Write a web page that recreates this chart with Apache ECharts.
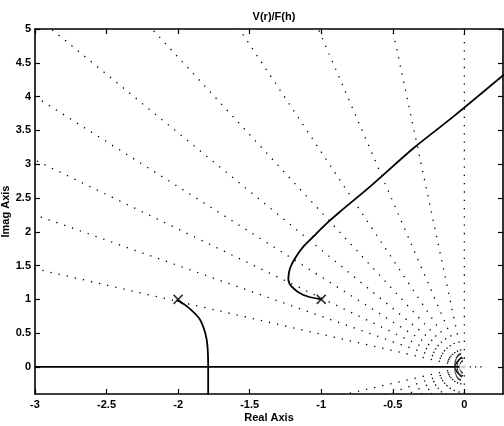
<!DOCTYPE html>
<html>
<head>
<meta charset="utf-8">
<script src="https://cdn.jsdelivr.net/npm/echarts@6/dist/echarts.min.js"></script>
<style>
  html, body { margin: 0; padding: 0; background: #fff; }
  #main { width: 504px; height: 426px; }
</style>
</head>
<body>
<div id="main"></div>
<script>
// root locus V(r)/F(h)

// open loop poles (x) and zero (o)
var poles = [[-2, 1], [-1, 1]];
var zeros = [[0, 0]];

// branch leaving the pole at -2+1j, drops vertically through the real axis
var branch1 = [[-2.01, 0.99], [-1.94, 0.90], [-1.85, 0.71], [-1.81, 0.50],
  [-1.795, 0.31], [-1.79, 0.0], [-1.79, -0.6]];

// branch leaving the pole at -1+1j, bends left then heads up to the right
var branch2 = [[-1.0, 1.0], [-1.125, 1.065], [-1.207, 1.188], [-1.23, 1.31],
  [-1.218, 1.46], [-1.183, 1.608], [-1.125, 1.78], [-1.055, 1.93],
  [-0.962, 2.125], [-0.869, 2.297], [-0.659, 2.667], [-0.356, 3.235],
  [-0.077, 3.703], [0.28, 4.33]];

// locus on the real axis
var realBranch = [[-3, 0], [0, 0]];

// sgrid damping ratios
var zetas = [0, 0.1, 0.2, 0.3, 0.4, 0.5, 0.6, 0.7, 0.8, 0.9];

// tick labels
var xTicks = [-3, -2.5, -2, -1.5, -1, -0.5, 0];
var yTicks = [0, 0.5, 1, 1.5, 2, 2.5, 3, 3.5, 4, 4.5, 5];

var chart = echarts.init(document.getElementById('main'), null, { renderer: 'canvas' });

var FONT = 'Liberation Sans';
var dotStyle = { color: '#000', width: 1.3, type: [1.3, 7] };

// damping ratio rays, upper and lower half planes
var raySeries = [];
zetas.forEach(function (z) {
  var w = Math.sqrt(1 - z * z);
  [1, -1].forEach(function (s) {
    raySeries.push({
      type: 'line',
      data: [[0, 0], [-z * 12, s * w * 12]],
      showSymbol: false,
      silent: true,
      lineStyle: dotStyle,
      z: 1
    });
  });
});

var frameAxisLine = { show: true, onZero: false, lineStyle: { color: '#000', width: 1.6 } };
var tickStyle = { show: true, inside: true, length: 5, lineStyle: { color: '#000', width: 1.2 } };
var labelFont = { fontFamily: FONT, fontSize: 11, fontWeight: 'bold', color: '#000' };

var option = {
  backgroundColor: '#fff',
  animation: false,
  title: {
    text: 'V(r)/F(h)',
    left: 269,
    textAlign: 'center',
    top: 6,
    textStyle: labelFont
  },
  grid: { left: 35, right: 1, top: 29, bottom: 32, containLabel: false, outerBoundsMode: 'none' },
  xAxis: [{
    type: 'value',
    min: -3,
    max: 0.27,
    position: 'bottom',
    name: 'Real Axis',
    nameLocation: 'middle',
    nameGap: 18,
    nameMoveOverlap: false,
    nameTextStyle: labelFont,
    axisLine: frameAxisLine,
    axisTick: Object.assign({ customValues: xTicks }, tickStyle),
    axisLabel: Object.assign({ customValues: xTicks, margin: 5 }, labelFont),
    splitLine: { show: false }
  }, {
    type: 'value',
    min: -3,
    max: 0.27,
    position: 'top',
    axisLine: frameAxisLine,
    axisTick: Object.assign({ customValues: xTicks }, tickStyle),
    axisLabel: { show: false },
    splitLine: { show: false }
  }],
  yAxis: [{
    type: 'value',
    min: -0.4,
    max: 5,
    position: 'left',
    name: 'Imag Axis',
    nameLocation: 'middle',
    nameGap: 24,
    nameMoveOverlap: false,
    nameTextStyle: labelFont,
    axisLine: frameAxisLine,
    axisTick: Object.assign({ customValues: yTicks }, tickStyle),
    axisLabel: Object.assign({ customValues: yTicks, margin: 4 }, labelFont),
    splitLine: { show: false }
  }, {
    type: 'value',
    min: -0.4,
    max: 5,
    position: 'right',
    axisLine: frameAxisLine,
    axisTick: Object.assign({ customValues: yTicks }, tickStyle),
    axisLabel: { show: false },
    splitLine: { show: false }
  }],
  series: raySeries.concat([
    {
      type: 'line',
      data: [[0, 0], [0.13, 0]],
      showSymbol: false,
      lineStyle: { color: '#000', width: 1.3, type: [1.3, 4] },
      z: 1
    },
    {
      type: 'line',
      data: realBranch,
      showSymbol: false,
      lineStyle: { color: '#000', width: 1.8 },
      z: 3
    },
    {
      type: 'line',
      data: branch1,
      showSymbol: false,
      smooth: 0.3,
      lineStyle: { color: '#000', width: 1.8 },
      z: 3
    },
    {
      type: 'line',
      data: branch2,
      showSymbol: false,
      smooth: 0.3,
      lineStyle: { color: '#000', width: 1.8 },
      z: 3
    },
    {
      // small arcs hugging the zero at the origin
      type: 'scatter',
      data: [zeros[0], zeros[0], zeros[0]],
      symbol: 'path://M10,0A10,10 0 0 0 10,20',
      symbolKeepAspect: true,
      symbolSize: function (v, p) { var s = [12, 19, 26][p.dataIndex]; return [s / 2, s]; },
      symbolOffset: function (v, p) { var s = [12, 19, 26][p.dataIndex]; return [-s / 4, 0]; },
      itemStyle: { color: 'transparent', borderColor: '#000', borderWidth: 1.3 },
      z: 4
    },
    {
      type: 'scatter',
      data: zeros,
      symbol: 'emptyCircle',
      symbolSize: 8,
      itemStyle: { color: '#fff', borderColor: '#000', borderWidth: 2 },
      z: 5
    },
    {
      type: 'scatter',
      data: poles,
      symbol: 'path://M0,0L10,10M10,0L0,10',
      symbolSize: 9,
      itemStyle: { color: 'transparent', borderColor: '#000', borderWidth: 1.6 },
      z: 5
    }
  ])
};

chart.setOption(option);
</script>
</body>
</html>
